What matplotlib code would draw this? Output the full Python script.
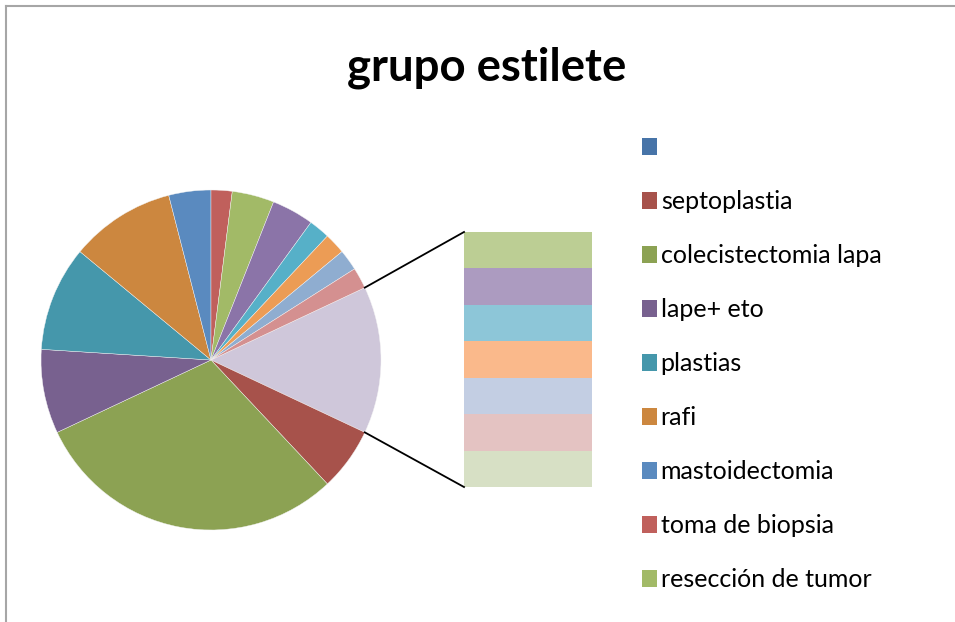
import matplotlib
matplotlib.use("Agg")
import matplotlib.pyplot as plt
from matplotlib.patches import Patch
import numpy as np

plt.rcParams['font.family'] = ['Lato', 'DejaVu Sans']

title = "grupo estilete"

# legend entries (the rest of the legend is cut off in the original)
legend_labels = ['', 'septoplastia', 'colecistectomia lapa', 'lape+ eto',
                 'plastias', 'rafi', 'mastoidectomia', 'toma de biopsia',
                 'resección de tumor']

# first plot values (first category is blank / zero)
main_values = [0, 3, 15, 4, 5, 5, 2, 1, 2, 2, 1, 1, 1, 1]
main_colors = ['#4774A8', '#A7524B', '#8CA253', '#78618F', '#4597AB', '#CC873F',
               '#5A8ABF', '#C0605C', '#A2BA67', '#8B74A8', '#56B0C8', '#EC9C55',
               '#8FADD0', '#D49090']

# second plot (stacked bar), top to bottom
bar_values = [1, 1, 1, 1, 1, 1, 1]
bar_colors = ['#BCCE94', '#AC9BC0', '#8DC6D8', '#FAB98B', '#C3CEE3',
              '#E4C3C2', '#D7E0C5']
other_color = '#CFC7DA'

W, H = 955, 622
fig = plt.figure(figsize=(W / 100, H / 100), dpi=100)
ax = fig.add_axes([0, 0, 1, 1])

cx, cy, r = 211, H - 360, 170
other = sum(bar_values)
vals = [other] + main_values[1:]
cols = [other_color] + main_colors[1:]
total = sum(vals)
half = 360.0 * other / total / 2
ax.pie(vals, colors=cols, center=(cx, cy), radius=r, startangle=half,
       counterclock=False, wedgeprops=dict(linewidth=0.3, edgecolor='#F4F4F4'),
       frame=True)
ax.set_xlim(0, W)
ax.set_ylim(0, H)
ax.set_aspect('equal')
ax.axis('off')

# stacked bar for the "other" slice
bx0, bx1 = 464, 592
btop, bbot = H - 232, H - 487
unit = (btop - bbot) / other
y = btop
for v, c in zip(bar_values, bar_colors):
    ax.bar(bx0, -v * unit, bottom=y, width=bx1 - bx0, align='edge',
           color=c, linewidth=0)
    y -= v * unit

# connector lines
t = np.radians(half)
ax.plot([cx + r * np.cos(t), bx0], [cy + r * np.sin(t), btop], color='black', lw=1.3)
ax.plot([cx + r * np.cos(t), bx0], [cy - r * np.sin(t), bbot], color='black', lw=1.3)

# title
fig.text(487 / W, 1 - 68 / H, title, ha='center', va='center',
         fontsize=32.8, fontweight='bold')

# legend
handles = [Patch(facecolor=main_colors[i], edgecolor='none')
           for i in range(len(legend_labels))]
fig.legend(handles, legend_labels, loc='upper left',
           bbox_to_anchor=(642 / W, 1 - 136 / H), frameon=False,
           fontsize=18, handlelength=0.6, handleheight=0.68,
           handletextpad=0.15, labelspacing=1.24, borderpad=0,
           borderaxespad=0)

# chart border (only top and left visible)
ax.plot([6, 6], [0, H - 6], color='#A6A6A6', lw=1.5, clip_on=False)
ax.plot([6, W], [H - 6, H - 6], color='#A6A6A6', lw=1.5, clip_on=False)

fig.savefig('out.png', dpi=100)
